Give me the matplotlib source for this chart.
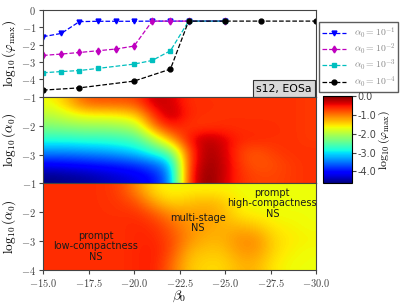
import numpy as np
import matplotlib
matplotlib.use('Agg')
import matplotlib.pyplot as plt
from matplotlib.ticker import FuncFormatter, FormatStrFormatter

plt.rcParams['mathtext.fontset'] = 'cm'

# ---------------- data ----------------
# top panel: log10(phi_max) vs beta_0 for several alpha_0
beta_a1 = [-15, -16, -17, -18, -19, -20, -21, -22, -23, -25]
phi_a1 = [-1.54, -1.35, -0.67, -0.65, -0.65, -0.65, -0.64, -0.64, -0.64, -0.64]
beta_a2 = [-15, -16, -17, -18, -19, -20, -21, -22, -23, -25]
phi_a2 = [-2.62, -2.54, -2.45, -2.35, -2.25, -2.08, -0.64, -0.64, -0.64, -0.64]
beta_a3 = [-15, -16, -17, -18, -20, -21, -22, -23, -25]
phi_a3 = [-3.62, -3.55, -3.49, -3.37, -3.12, -2.91, -2.35, -0.64, -0.64]
beta_a4 = [-15, -17, -20, -22, -23, -25, -27, -30]
phi_a4 = [-4.62, -4.49, -4.10, -3.41, -0.64, -0.64, -0.64, -0.64]

series_labels = [r'$\alpha_0 = 10^{-1}$', r'$\alpha_0 = 10^{-2}$',
                 r'$\alpha_0 = 10^{-3}$', r'$\alpha_0 = 10^{-4}$']

# middle panel: log10(phi_max) map on (beta_0, log10 alpha_0) grid
beta_grid = [-15, -16, -17, -18, -19, -20, -21, -22, -23, -24, -25, -26, -27, -28, -29, -30]
log_alpha_grid = [-1.0, -1.5, -2.0, -2.5, -3.0, -3.5, -4.0]
phi_map = [
    [-1.65, -1.30, -0.85, -0.80, -0.80, -0.75, -0.25, -0.35, -0.65, -0.65, -0.65, -0.65, -0.65, -0.65, -0.65, -0.70],
    [-1.95, -1.75, -1.60, -1.60, -1.55, -1.40, -0.60, -0.20, -0.60, -0.65, -0.65, -0.65, -0.65, -0.65, -0.65, -0.70],
    [-2.30, -2.25, -2.20, -2.20, -2.15, -2.00, -1.00, -0.55, -0.70, -0.70, -0.65, -0.65, -0.65, -0.65, -0.65, -0.70],
    [-2.80, -2.80, -2.75, -2.75, -2.70, -2.60, -2.00, -1.20, -0.50, -0.20, -0.35, -0.60, -0.60, -0.65, -0.65, -0.70],
    [-3.40, -3.40, -3.35, -3.30, -3.20, -3.05, -2.75, -2.40, -0.80, -0.15, -0.30, -0.75, -0.85, -0.70, -0.65, -0.65],
    [-4.10, -4.05, -4.00, -3.95, -3.90, -3.80, -3.60, -3.20, -0.70, -0.10, -0.25, -0.70, -0.85, -0.80, -0.70, -0.65],
    [-4.60, -4.55, -4.50, -4.40, -4.30, -4.20, -4.00, -3.40, -0.60, -0.02, -0.30, -0.65, -0.75, -0.75, -0.70, -0.65],
]

# bottom panel: regime indicator (normalised colour value)
regime_map = [
    [0.86, 0.86, 0.86, 0.86, 0.84, 0.76, 0.67, 0.64, 0.65, 0.65, 0.65, 0.64, 0.64, 0.64, 0.64, 0.64],
    [0.86, 0.86, 0.86, 0.86, 0.85, 0.82, 0.73, 0.68, 0.70, 0.72, 0.70, 0.65, 0.64, 0.64, 0.64, 0.64],
    [0.86, 0.86, 0.86, 0.86, 0.86, 0.86, 0.82, 0.76, 0.74, 0.74, 0.72, 0.66, 0.65, 0.64, 0.64, 0.64],
    [0.86, 0.86, 0.86, 0.86, 0.86, 0.87, 0.86, 0.81, 0.75, 0.74, 0.72, 0.72, 0.70, 0.66, 0.65, 0.64],
    [0.86, 0.86, 0.86, 0.86, 0.86, 0.87, 0.87, 0.83, 0.76, 0.72, 0.72, 0.76, 0.76, 0.68, 0.66, 0.65],
    [0.86, 0.86, 0.86, 0.86, 0.86, 0.87, 0.88, 0.83, 0.72, 0.70, 0.70, 0.75, 0.75, 0.68, 0.65, 0.64],
    [0.86, 0.86, 0.86, 0.86, 0.86, 0.87, 0.88, 0.80, 0.70, 0.68, 0.68, 0.72, 0.72, 0.66, 0.64, 0.64],
]

region_labels = ['prompt\nlow-compactness\nNS', 'multi-stage\nNS', 'prompt\nhigh-compactness\nNS']
region_beta = [-17.9, -23.5, -27.6]
region_alpha = [-3.17, -2.38, -1.69]

x_ticks = [-15.0, -17.5, -20.0, -22.5, -25.0, -27.5, -30.0]
cbar_ticks = [0.0, -1.0, -2.0, -3.0, -4.0]

# ---------------- figure ----------------
fig = plt.figure(figsize=(4.07, 3.07), dpi=100)
L, W = 0.1057, 0.6708
H = 0.2824
ax_top = fig.add_axes([L, 0.685, W, H])
ax_mid = fig.add_axes([L, 0.4026, W, H])
ax_bot = fig.add_axes([L, 0.1202, W, H])
cax = fig.add_axes([0.7936, 0.404, 0.0713, 0.283])

spine_col = '#444444'
math_int = FuncFormatter(lambda v, p: r'$%d$' % round(v))
math_flt = FuncFormatter(lambda v, p: r'$%.1f$' % v)

styles = [('b', 'v'), ('m', 'd'), ('c', 's'), ('k', 'o')]
xs = [beta_a1, beta_a2, beta_a3, beta_a4]
ys = [phi_a1, phi_a2, phi_a3, phi_a4]
for (col, mk), x, y, lab in zip(styles, xs, ys, series_labels):
    ax_top.plot(x, y, ls='--', color=col, marker=mk, ms=3.5, lw=0.9, label=lab)
ax_top.set_ylim(-5, 0)
ax_top.set_yticks([0, -1, -2, -3, -4])
ax_top.set_ylabel(r'$\log_{10}(\varphi_{\max})$', fontsize=9.5, labelpad=2)
ax_top.text(0.985, 0.035, 's12, EOSa', transform=ax_top.transAxes, ha='right', va='bottom',
            fontsize=7.8, bbox=dict(boxstyle='square,pad=0.3', fc='#d9d9d9', ec='#333333', lw=0.8))
leg = ax_top.legend(loc='upper left', bbox_to_anchor=(0.785, 0.927), bbox_transform=fig.transFigure,
                    borderaxespad=0, fontsize=7.0, fancybox=False, edgecolor='#333333',
                    handlelength=2.4, labelspacing=0.12, borderpad=0.3, handletextpad=0.8)
for t in leg.get_texts():
    t.set_color('#888888')

ext = (beta_grid[0], beta_grid[-1], log_alpha_grid[-1], log_alpha_grid[0])
im = ax_mid.imshow(np.array(phi_map), cmap='jet', vmin=-4.62, vmax=0.0, extent=ext,
                   origin='upper', aspect='auto', interpolation='bicubic')
ax_mid.set_ylim(-4, -1)
ax_mid.set_yticks([-1, -2, -3])
ax_mid.set_ylabel(r'$\log_{10}(\alpha_0)$', fontsize=9.5, labelpad=2)

ax_bot.imshow(np.array(regime_map), cmap='jet', vmin=0.0, vmax=1.0, extent=ext,
              origin='upper', aspect='auto', interpolation='bicubic')
ax_bot.set_ylim(-4, -1)
ax_bot.set_yticks([-1, -2, -3, -4])
ax_bot.set_ylabel(r'$\log_{10}(\alpha_0)$', fontsize=9.5, labelpad=2)
ax_bot.set_xlabel(r'$\beta_0$', fontsize=10, labelpad=0)
for lab, bx, ay in zip(region_labels, region_beta, region_alpha):
    ax_bot.text(bx, ay, lab, ha='center', va='center', fontsize=7, color='#1a1a1a', linespacing=1.05)

for ax in (ax_top, ax_mid, ax_bot):
    ax.set_xlim(-15, -30)
    ax.set_xticks(x_ticks)
    ax.yaxis.set_major_formatter(math_int)
    ax.tick_params(labelsize=7.5, colors='#444444', length=3, pad=2)
    for s in ax.spines.values():
        s.set_color(spine_col)
for ax in (ax_top, ax_mid):
    ax.tick_params(labelbottom=False, bottom=False)
ax_bot.xaxis.set_major_formatter(math_flt)

cb = fig.colorbar(im, cax=cax, ticks=cbar_ticks)
cb.ax.yaxis.set_major_formatter(FormatStrFormatter('%.1f'))
cb.ax.tick_params(labelsize=7, colors='#444444', length=3, pad=1)
cb.set_label(r'$\log_{10}(\varphi_{\max})$', fontsize=8.5, labelpad=0)

fig.savefig('out.png', dpi=100)
